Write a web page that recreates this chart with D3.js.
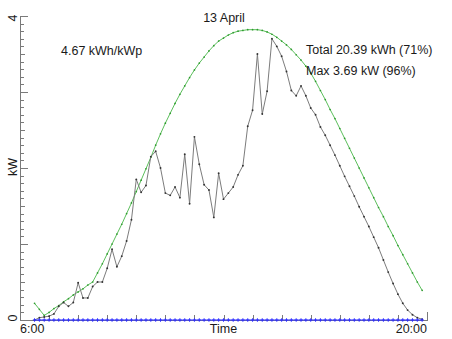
<!DOCTYPE html>
<html>
<head>
<meta charset="utf-8">
<script src="https://cdn.jsdelivr.net/npm/d3@7"></script>
<style>
  body { margin: 0; background: #fff; }
  text { font-family: "Liberation Sans", Arial, sans-serif; fill: #1a1a1a; }
</style>
</head>
<body>
<svg id="chart" width="452" height="339"></svg>
<script>
// ---------- DATA (10-minute samples, first one at 6:30) ----------
const title = "13 April";
const startHour = 6.5;
const stepMinutes = 10;

// measured output, kW
const actual = [
  0.00, 0.03, 0.04, 0.05, 0.08, 0.18, 0.23, 0.18, 0.23, 0.49,
  0.29, 0.29, 0.44, 0.50, 0.50, 0.68, 0.93, 0.70, 0.84, 1.04,
  1.32, 1.85, 1.68, 1.77, 2.15, 2.22, 2.00, 1.67, 1.64, 1.75,
  1.61, 2.18, 1.53, 2.41, 2.05, 1.78, 1.71, 1.35, 1.93, 1.59,
  1.67, 1.75, 1.91, 2.03, 2.55, 2.76, 3.50, 2.71, 3.01, 3.70,
  3.60, 3.47, 3.27, 3.02, 2.95, 3.08, 2.95, 2.79, 2.70, 2.54,
  2.43, 2.30, 2.17, 2.03, 1.89, 1.76, 1.63, 1.49, 1.36, 1.23,
  1.09, 0.95, 0.79, 0.63, 0.48, 0.34, 0.22, 0.13, 0.07, 0.03,
  0.01
];

// clear-sky expectation, kW
const clearSky = [
  0.22, 0.14, 0.06, 0.10, 0.15, 0.19, 0.24, 0.28, 0.33, 0.37,
  0.41, 0.46, 0.50, 0.62, 0.74, 0.87, 1.00, 1.13, 1.26, 1.40,
  1.54, 1.69, 1.84, 1.99, 2.14, 2.30, 2.45, 2.59, 2.72, 2.85,
  2.97, 3.08, 3.19, 3.29, 3.38, 3.46, 3.54, 3.61, 3.67, 3.71,
  3.75, 3.78, 3.80, 3.81, 3.82, 3.82, 3.82, 3.81, 3.79, 3.76,
  3.72, 3.67, 3.62, 3.56, 3.49, 3.42, 3.34, 3.25, 3.14, 3.02,
  2.90, 2.77, 2.65, 2.52, 2.39, 2.26, 2.13, 2.00, 1.87, 1.74,
  1.61, 1.48, 1.36, 1.23, 1.11, 0.98, 0.86, 0.74, 0.62, 0.50,
  0.39
];

// second string, kW (flat at zero all day)
const secondString = [
  0, 0, 0, 0, 0, 0, 0, 0, 0, 0,
  0, 0, 0, 0, 0, 0, 0, 0, 0, 0,
  0, 0, 0, 0, 0, 0, 0, 0, 0, 0,
  0, 0, 0, 0, 0, 0, 0, 0, 0, 0,
  0, 0, 0, 0, 0, 0, 0, 0, 0, 0,
  0, 0, 0, 0, 0, 0, 0, 0, 0, 0,
  0, 0, 0, 0, 0, 0, 0, 0, 0, 0,
  0, 0, 0, 0, 0, 0, 0, 0, 0, 0,
  0
];

const xTickHours = [6, 7, 8, 9, 10, 11, 12, 13, 14, 15, 16, 17, 18, 19, 20];
const xEndLabels = [
  { hour: 6, label: "6:00", anchor: "start" },
  { hour: 20, label: "20:00", anchor: "end" }
];
const yTickLabels = [0, 4];
const yieldText = "4.67 kWh/kWp";
const summaryText = ["Total 20.39 kWh (71%)", "Max 3.69 kW (96%)"];

// ---------- SCALES ----------
const svg = d3.select("#chart");
const x = d3.scaleLinear().domain([6, 20]).range([20, 427]);
const y = d3.scaleLinear().domain([0, 4]).range([320, 16]);
const hourOf = i => startHour + i * stepMinutes / 60;

const axisColor = "#7a7a7a";

// ---------- AXES ----------
// y minor ticks
svg.append("g")
  .attr("transform", "translate(20,0)")
  .call(d3.axisLeft(y).tickValues(d3.range(0, 4.001, 0.1)).tickSize(-3.5).tickFormat(""));
// y half ticks
svg.append("g")
  .attr("transform", "translate(20,0)")
  .call(d3.axisLeft(y).tickValues([0.5, 1.5, 2.5, 3.5]).tickSize(-4.5).tickFormat("").tickSizeOuter(0));
// y major ticks
svg.append("g")
  .attr("transform", "translate(20,0)")
  .call(d3.axisLeft(y).tickValues([0, 1, 2, 3, 4]).tickSize(-8).tickFormat("").tickSizeOuter(0));

// x ticks
svg.append("g")
  .attr("transform", "translate(0,320)")
  .call(d3.axisBottom(x).tickValues(xTickHours).tickSize(-5).tickFormat("").tickSizeOuter(0));
svg.append("g")
  .attr("transform", "translate(0,320)")
  .call(d3.axisBottom(x).tickValues([20]).tickSize(-8).tickFormat("").tickSizeOuter(0));

svg.selectAll(".domain, .tick line")
  .attr("stroke", axisColor)
  .attr("shape-rendering", "crispEdges");

// x labels
svg.selectAll(".xlab")
  .data(xEndLabels)
  .join("text")
  .attr("class", "xlab")
  .attr("x", d => x(d.hour))
  .attr("y", 333)
  .attr("text-anchor", d => d.anchor)
  .attr("font-size", 12.5)
  .text(d => d.label);

svg.append("text")
  .attr("x", (x.range()[0] + x.range()[1]) / 2)
  .attr("y", 333)
  .attr("text-anchor", "middle")
  .attr("font-size", 12.5)
  .text("Time");

// y labels (rotated)
svg.selectAll(".ylab")
  .data(yTickLabels)
  .join("text")
  .attr("class", "ylab")
  .attr("transform", d => `translate(16.5,${y(d) + (d === 0 ? -2 : 2)}) rotate(-90)`)
  .attr("text-anchor", "middle")
  .attr("font-size", 12.5)
  .text(d => d);

svg.append("text")
  .attr("transform", `translate(16.5,${y(2) - 1}) rotate(-90)`)
  .attr("text-anchor", "middle")
  .attr("font-size", 12.5)
  .text("kW");

// ---------- SERIES ----------
const line = d3.line()
  .x((d, i) => x(hourOf(i)))
  .y(d => y(d));

svg.append("path")
  .datum(clearSky)
  .attr("fill", "none")
  .attr("stroke", "#5cbf5c")
  .attr("stroke-width", 1)
  .attr("d", line);

svg.append("g").selectAll("circle")
  .data(clearSky)
  .join("circle")
  .attr("cx", (d, i) => x(hourOf(i)))
  .attr("cy", d => y(d))
  .attr("r", 0.85)
  .attr("fill", "#2e9a2e");

svg.append("path")
  .datum(actual)
  .attr("fill", "none")
  .attr("stroke", "#7c7c7c")
  .attr("stroke-width", 1)
  .attr("d", line);

svg.append("g").selectAll("circle")
  .data(actual)
  .join("circle")
  .attr("cx", (d, i) => x(hourOf(i)))
  .attr("cy", d => y(d))
  .attr("r", 0.95)
  .attr("fill", "#333");

svg.append("path")
  .datum(secondString)
  .attr("fill", "none")
  .attr("stroke", "#3d3dff")
  .attr("stroke-width", 1)
  .attr("d", line);

svg.append("g").selectAll("path")
  .data(secondString)
  .join("path")
  .attr("transform", (d, i) => `translate(${x(hourOf(i))},${y(d)})`)
  .attr("d", "M-1.8,0H1.8M0,-1.8V1.8")
  .attr("stroke", "#2a2aff")
  .attr("stroke-width", 0.9);

// ---------- TEXT ----------
svg.append("text")
  .attr("x", 224)
  .attr("y", 22)
  .attr("text-anchor", "middle")
  .attr("font-size", 12.5)
  .text(title);

svg.append("text")
  .attr("x", 61)
  .attr("y", 55)
  .attr("font-size", 12.5)
  .text(yieldText);

svg.selectAll(".summary")
  .data(summaryText)
  .join("text")
  .attr("class", "summary")
  .attr("x", 306)
  .attr("y", (d, i) => 54 + i * 21)
  .attr("font-size", 12.5)
  .text(d => d);
</script>
</body>
</html>
